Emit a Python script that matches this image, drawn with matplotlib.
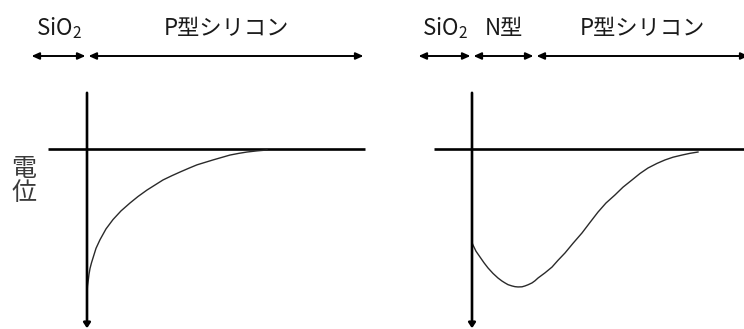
import matplotlib
matplotlib.use("Agg")
import matplotlib.pyplot as plt

plt.rcParams["font.family"] = ["Noto Sans CJK JP", "DejaVu Sans"]
plt.rcParams["mathtext.fontset"] = "custom"
plt.rcParams["mathtext.rm"] = "Noto Sans CJK JP"

# ── Data (depth in a.u. from the oxide/silicon interface, potential in a.u.) ──
# Left: P-type silicon only
DEPTH_P = [0, 0.5, 1.3, 2, 3, 4.5, 6.3, 9, 13, 19, 26, 34, 43, 51, 60, 68, 76,
           85, 93, 102, 110, 118, 126, 135, 143, 152, 160, 170, 180]
POT_P = [-1.00, -0.95, -0.91, -0.87, -0.83, -0.79, -0.75, -0.69, -0.63, -0.555,
         -0.49, -0.43, -0.375, -0.33, -0.285, -0.25, -0.215, -0.185, -0.16,
         -0.133, -0.11, -0.093, -0.076, -0.058, -0.042, -0.03, -0.021, -0.013,
         -0.007]

# Right: N-type layer on P-type silicon (buried channel)
DEPTH_NP = [0, 1, 4, 8, 12, 16, 21, 26, 30, 33, 36, 40, 43, 46, 50, 53, 56, 60,
            63, 66, 73, 80, 86, 93, 101, 110, 118, 126, 134, 143, 151, 160, 168,
            176, 185, 193, 201, 210, 218, 226]
POT_NP = [-0.65, -0.667, -0.71, -0.75, -0.79, -0.826, -0.864, -0.896, -0.917,
          -0.93, -0.942, -0.951, -0.956, -0.958, -0.957, -0.951, -0.943, -0.93,
          -0.915, -0.896, -0.86, -0.82, -0.773, -0.722, -0.655, -0.583, -0.51,
          -0.438, -0.375, -0.319, -0.265, -0.215, -0.17, -0.132, -0.1, -0.076,
          -0.057, -0.042, -0.03, -0.021]

# Layers: (label, start, end) along depth
LAYERS_LEFT = [("SiO$_\\mathrm{2}$", -57, 0), ("P型シリコン", 0, 278)]
LAYERS_RIGHT = [("SiO$_\\mathrm{2}$", -55, 0), ("N型", 0, 63), ("P型シリコン", 63, 278)]

Y_LABEL = "電\n位"

W, H = 744, 329
ZERO_Y = 149      # pixel row of the zero-potential line
SCALE = 144.0     # pixels per potential unit

fig = plt.figure(figsize=(W / 100, H / 100), dpi=100)
fig.patch.set_facecolor("white")


def panel(x0_px, x1_px, origin_px, depth, pot, layers, hline):
    ax = fig.add_axes([x0_px / W, 0, (x1_px - x0_px) / W, 1])
    ax.set_xlim(x0_px - origin_px, x1_px - origin_px)
    ax.set_ylim(-(H - ZERO_Y) / SCALE, ZERO_Y / SCALE)
    ax.axis("off")

    # zero line
    ax.plot(hline, [0, 0], color="black", lw=1.9, solid_capstyle="butt")
    # vertical axis with small arrowhead at the bottom
    ax.annotate("", xy=(0, -1.245), xytext=(0, 0.39),
                arrowprops=dict(arrowstyle="-|>,head_length=0.3,head_width=0.2",
                                lw=1.9, color="black", shrinkA=0, shrinkB=0))
    # potential curve
    ax.plot(depth, pot, color="#2a2a2a", lw=1.0, solid_joinstyle="round")

    # layer arrows + labels
    y_arrow = (ZERO_Y - 56) / SCALE
    y_text = (ZERO_Y - 28) / SCALE
    for label, a, b in layers:
        ax.annotate("", xy=(a + 1.5, y_arrow), xytext=(b - 1.5, y_arrow),
                    arrowprops=dict(arrowstyle="<|-|>,head_length=0.45,head_width=0.2",
                                    lw=1.4, color="black", shrinkA=0, shrinkB=0))
        ax.text((a + b) / 2, y_text, label, ha="center", va="center",
                fontsize=16, color="#1a1a1a")
    return ax


axL = panel(0, 372, 87, DEPTH_P, POT_P, LAYERS_LEFT, [-39, 278])
axR = panel(372, 744, 472, DEPTH_NP, POT_NP, LAYERS_RIGHT, [-38, 272])

axL.text(24 - 87, (ZERO_Y - 181) / SCALE, Y_LABEL, ha="center", va="center",
         fontsize=18, color="#3a3a3a", linespacing=0.95)

fig.savefig("out.png", dpi=100, facecolor="white")
